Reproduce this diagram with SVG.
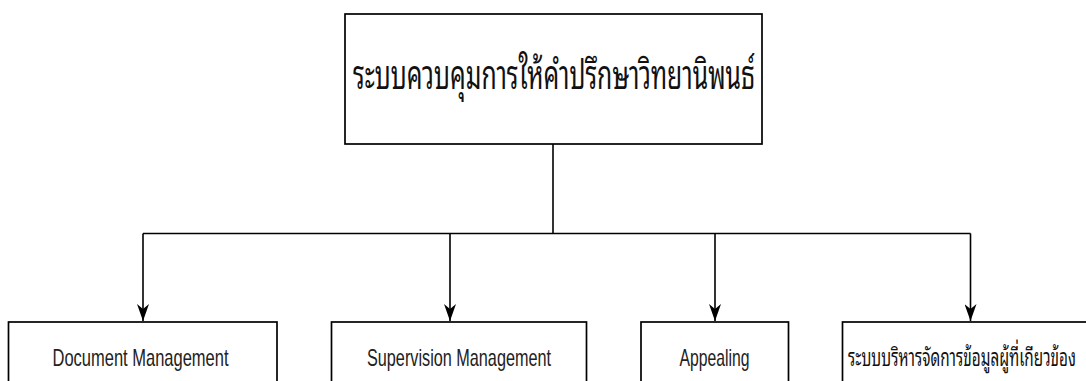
<svg xmlns="http://www.w3.org/2000/svg" width="1086" height="381" viewBox="0 0 1086 381">
  <defs>
    <marker id="arrowD" viewBox="-6 -17 12 17" refX="0" refY="0" markerWidth="12" markerHeight="17" markerUnits="userSpaceOnUse" orient="0">
      <path d="M-6,-17 L0,-12 L6,-17 L0,0 Z" fill="#000"/>
    </marker>
    <style>
      .box { fill: #fff; stroke: #000; stroke-width: 1.7; }
      .conn { fill: none; stroke: #000; stroke-width: 1.6; }
      .lbl { font-family: "Liberation Sans", Arial, sans-serif; fill: #222; text-anchor: middle; }
      .thai { font-family: "Noto Sans Thai Looped", "Noto Serif Thai", Loma, Garuda, "Noto Sans Thai", "Liberation Sans", "Noto Sans", sans-serif; fill: #111; }
    </style>
  </defs>
  <rect width="1086" height="381" fill="#fff"/>

  <g id="connectors">
    <path class="conn" d="M553,144 V233.5"/>
    <path class="conn" d="M143,233.5 H970.5"/>
    <path class="conn" d="M143,233.5 V321" marker-end="url(#arrowD)"/>
    <path class="conn" d="M450,233.5 V321" marker-end="url(#arrowD)"/>
    <path class="conn" d="M715,233.5 V321" marker-end="url(#arrowD)"/>
    <path class="conn" d="M970.5,233.5 V321" marker-end="url(#arrowD)"/>
  </g>

  <g id="node-root">
    <rect class="box" x="345" y="14" width="417" height="130"/>
    <text class="thai" x="554" y="89" font-size="40" text-anchor="middle" textLength="402" lengthAdjust="spacingAndGlyphs">ระบบควบคุมการให้คำปรึกษาวิทยานิพนธ์</text>
  </g>

  <g id="node-document">
    <rect class="box" x="8.5" y="322" width="268.5" height="70"/>
    <text class="lbl" x="140.5" y="366" font-size="24" textLength="176" lengthAdjust="spacingAndGlyphs">Document Management</text>
  </g>

  <g id="node-supervision">
    <rect class="box" x="331.5" y="322" width="255" height="70"/>
    <text class="lbl" x="459" y="366" font-size="24" textLength="184" lengthAdjust="spacingAndGlyphs">Supervision Management</text>
  </g>

  <g id="node-appealing">
    <rect class="box" x="641" y="322" width="147.5" height="70"/>
    <text class="lbl" x="714.5" y="366" font-size="24" textLength="70" lengthAdjust="spacingAndGlyphs">Appealing</text>
  </g>

  <g id="node-stakeholders">
    <rect class="box" x="842.5" y="322" width="300" height="70"/>
    <text class="thai" x="848" y="366" font-size="25" textLength="228" lengthAdjust="spacingAndGlyphs">ระบบบริหารจัดการข้อมูลผู้ที่เกียวข้อง</text>
  </g>
</svg>
